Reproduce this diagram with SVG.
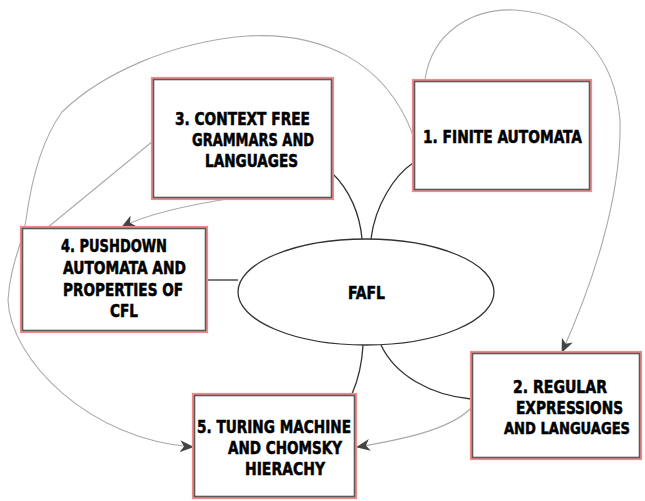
<svg xmlns="http://www.w3.org/2000/svg" width="645" height="501" viewBox="0 0 645 501">
<defs>
<marker id="arr" viewBox="0 0 14 12" refX="13" refY="6" markerWidth="14" markerHeight="12" markerUnits="userSpaceOnUse" orient="auto">
<path d="M0,0 L14,6 L0,12 L4,6 Z" fill="#444"/>
</marker>
<style>
.glow{fill:none;stroke:#f38a8a;stroke-width:2.2}
.box{fill:#fff;stroke:#5a5a5a;stroke-width:1.6}
.ell{fill:#fff;stroke:#333;stroke-width:1.3}
.t{font-family:"DejaVu Sans Condensed","DejaVu Sans",sans-serif;font-weight:bold;font-size:17px;fill:#000;stroke:#000;stroke-width:0.5}
.dk{fill:none;stroke:#333;stroke-width:1.3}
.gr{fill:none;stroke:#aaa;stroke-width:1.1}
</style>
</defs>
<rect width="645" height="501" fill="#fff"/>
<g id="connectors">
<path class="gr" d="M413,135 C385,60 320,32 247,36 C170,42 100,75 62,112 C38,145 30,190 26,220 C22,245 10,265 8,300 C10,360 90,440 193,447" marker-end="url(#arr)"/>
<path class="gr" d="M425,80 C432,30 475,8 515,10 C580,14 615,60 620,120 C622,200 590,290 562,352" marker-end="url(#arr)"/>
<path class="gr" d="M153,141 L47,228"/>
<path class="gr" d="M240,197 C200,203 150,212 122,227" marker-end="url(#arr)"/>
<path class="gr" d="M471,408 C450,430 400,440 357,447" marker-end="url(#arr)"/>
<path class="dk" d="M332,173 C350,190 360,215 362,239"/>
<path class="dk" d="M413,163 C395,175 375,205 371,239"/>
<path class="dk" d="M207,280 L238,280"/>
<path class="dk" d="M363,345 C362,365 358,380 352,394"/>
<path class="dk" d="M381,345 C395,375 430,395 471,399"/>
</g>
<g id="fafl">
<ellipse class="ell" cx="366" cy="292" rx="128" ry="53"/>
<text class="t" x="348" y="299" textLength="37" lengthAdjust="spacingAndGlyphs">FAFL</text>
</g>
<g id="n3">
<rect class="glow" x="152" y="78" width="181" height="121"/>
<rect class="box" x="153.5" y="79.5" width="178" height="118"/>
<text class="t" x="175" y="125" textLength="135" lengthAdjust="spacingAndGlyphs">3. CONTEXT FREE</text>
<text class="t" x="192" y="146" textLength="122" lengthAdjust="spacingAndGlyphs">GRAMMARS AND</text>
<text class="t" x="205" y="167" textLength="93" lengthAdjust="spacingAndGlyphs">LANGUAGES</text>
</g>
<g id="n1">
<rect class="glow" x="413" y="80" width="178" height="111"/>
<rect class="box" x="414.5" y="81.5" width="175" height="108"/>
<text class="t" x="423" y="143" textLength="159" lengthAdjust="spacingAndGlyphs">1. FINITE AUTOMATA</text>
</g>
<g id="n4">
<rect class="glow" x="21" y="227" width="186" height="105"/>
<rect class="box" x="22.5" y="228.5" width="183" height="102"/>
<text class="t" x="61" y="252" textLength="106" lengthAdjust="spacingAndGlyphs">4. PUSHDOWN</text>
<text class="t" x="63" y="274" textLength="123" lengthAdjust="spacingAndGlyphs">AUTOMATA AND</text>
<text class="t" x="63" y="296" textLength="120" lengthAdjust="spacingAndGlyphs">PROPERTIES OF</text>
<text class="t" x="110" y="317" textLength="28" lengthAdjust="spacingAndGlyphs">CFL</text>
</g>
<g id="n5">
<rect class="glow" x="193" y="394" width="163" height="104"/>
<rect class="box" x="194.5" y="395.5" width="160" height="101"/>
<text class="t" x="197" y="433" textLength="154" lengthAdjust="spacingAndGlyphs">5. TURING MACHINE</text>
<text class="t" x="228" y="454" textLength="114" lengthAdjust="spacingAndGlyphs">AND CHOMSKY</text>
<text class="t" x="245" y="475" textLength="80" lengthAdjust="spacingAndGlyphs">HIERACHY</text>
</g>
<g id="n2">
<rect class="glow" x="471" y="352" width="170" height="107"/>
<rect class="box" x="472.5" y="353.5" width="167" height="104"/>
<text class="t" x="513" y="393" textLength="94" lengthAdjust="spacingAndGlyphs">2. REGULAR</text>
<text class="t" x="516" y="414" textLength="107" lengthAdjust="spacingAndGlyphs">EXPRESSIONS</text>
<text class="t" x="504" y="434" textLength="126" lengthAdjust="spacingAndGlyphs" style="font-size:16px">AND LANGUAGES</text>
</g>
</svg>
